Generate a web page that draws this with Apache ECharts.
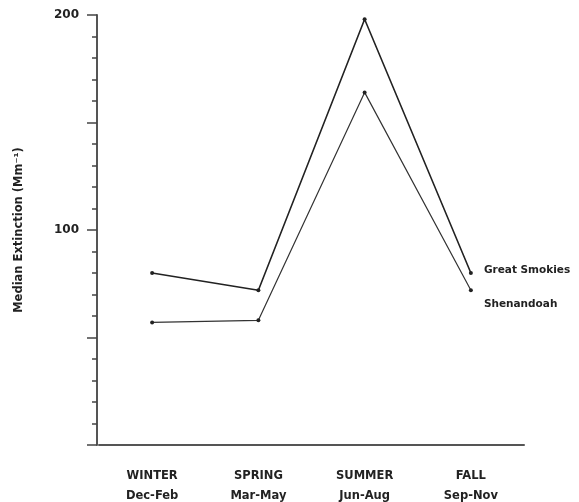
<!DOCTYPE html>
<html><head><meta charset="utf-8">
<script src="https://cdn.jsdelivr.net/npm/echarts@6/dist/echarts.min.js"></script>
<style>html,body{margin:0;padding:0;background:#fff}#c{width:579px;height:502px}</style>
</head><body><div id="c"></div>
<script>
var seasons = ['WINTER\nDec-Feb', 'SPRING\nMar-May', 'SUMMER\nJun-Aug', 'FALL\nSep-Nov'];
var greatSmokies = [80, 72, 198, 80];
var shenandoah = [57, 58, 164, 72];
var yTickLabels = {100: '100', 200: '200'};
var seriesNames = ['Great Smokies', 'Shenandoah'];

var chart = echarts.init(document.getElementById('c'));
var font = '"DejaVu Sans", Verdana, sans-serif';
function lastLabel(data, offY) {
  return data.map(function (v, i) {
    if (i === data.length - 1) {
      return {value: v, label: {show: true, position: 'right', offset: [6, offY],
        formatter: '{a}', fontFamily: font, fontWeight: 'bold', fontSize: 10.5, color: '#222'}};
    }
    return v;
  });
}
chart.setOption({
  animation: false,
  grid: {left: 99, width: 425, top: 15, bottom: 57, containLabel: false, outerBoundsMode: 'none'},
  xAxis: {
    type: 'category', data: seasons, boundaryGap: true, offset: 1,
    axisLine: {lineStyle: {color: '#555', width: 2}},
    axisTick: {alignWithLabel: true, length: 4, lineStyle: {color: '#444'}},
    axisLabel: {margin: 20, fontFamily: font, fontWeight: 'bold', fontSize: 11.5, color: '#222', lineHeight: 20}
  },
  yAxis: {
    type: 'value', min: 0, max: 200, interval: 50, offset: 2,
    name: 'Median Extinction (Mm\u207B\u00B9)', nameLocation: 'middle', nameGap: 72,
    nameTextStyle: {fontFamily: font, fontWeight: 'bold', fontSize: 11.5, color: '#222'},
    axisLine: {show: true, lineStyle: {color: '#555', width: 2}},
    axisTick: {show: true, length: 10, lineStyle: {color: '#444', width: 1.5}},
    minorTick: {show: true, splitNumber: 5, length: 5, lineStyle: {color: '#444', width: 1.5}},
    splitLine: {show: false},
    axisLabel: {margin: 18, fontFamily: font, fontWeight: 'bold', fontSize: 12, color: '#222',
      formatter: function (v) { return yTickLabels[v] || ''; }}
  },
  series: [
    {name: seriesNames[0], type: 'line', data: lastLabel(greatSmokies, -3),
     symbol: 'circle', symbolSize: 4, itemStyle: {color: '#222'},
     lineStyle: {color: '#222', width: 1.6}},
    {name: seriesNames[1], type: 'line', data: lastLabel(shenandoah, 14),
     symbol: 'circle', symbolSize: 4, itemStyle: {color: '#222'},
     lineStyle: {color: '#333', width: 1.2}}
  ]
});
</script></body></html>
